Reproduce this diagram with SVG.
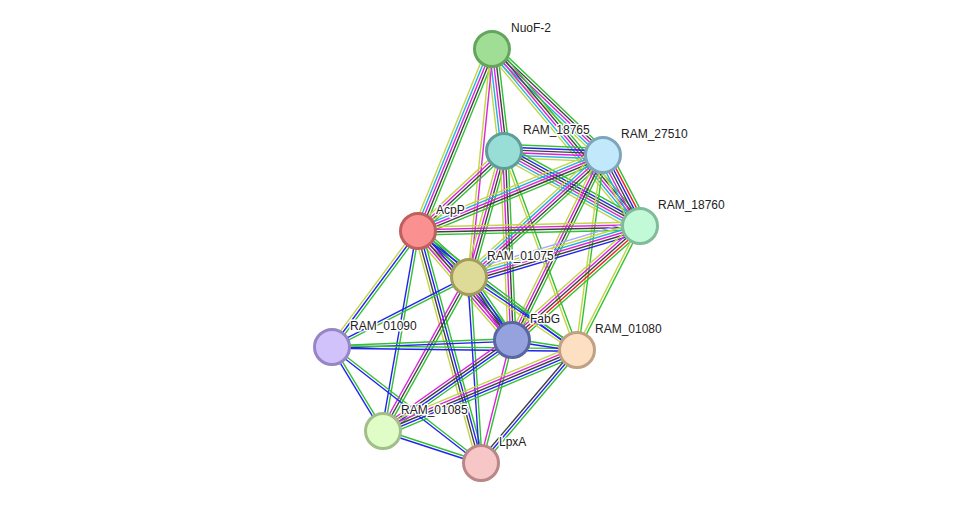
<svg xmlns="http://www.w3.org/2000/svg" width="976" height="509" viewBox="0 0 976 509">
<style>
.e path{fill:none;stroke-width:1.4;vector-effect:non-scaling-stroke}
.g{stroke:#33c033}.b{stroke:#2323f0}.k{stroke:#404040}.m{stroke:#dd22dd}.c{stroke:#22b0dd}.y{stroke:#c2d645}.r{stroke:#f02020}.h{stroke:#a8a8ff}
.n circle{stroke-width:3}
text{font-family:"Liberation Sans",Arial,sans-serif;font-size:12px;fill:#222;stroke:#fff;stroke-width:3;stroke-linejoin:round;paint-order:stroke}
</style>
<rect width="976" height="509" fill="#fff"/>
<g id="edges" class="e">
<g transform="translate(492 49) rotate(112.13) scale(1 1.2)"><path class="g" d="M0-4.4H196.5"/><path class="k" d="M0-2.2H196.5"/><path class="m" d="M0 0H196.5"/><path class="c" d="M0 2.2H196.5"/><path class="y" d="M0 4.4H196.5"/></g>
<g transform="translate(492 49) rotate(83.29) scale(1 1.2)"><path class="g" d="M0-4.4H102.7"/><path class="k" d="M0-2.2H102.7"/><path class="m" d="M0 0H102.7"/><path class="c" d="M0 2.2H102.7"/><path class="y" d="M0 4.4H102.7"/></g>
<g transform="translate(492 49) rotate(43.68) scale(1 1.2)"><path class="g" d="M0-4.4H153.5"/><path class="k" d="M0-2.2H153.5"/><path class="m" d="M0 0H153.5"/><path class="c" d="M0 2.2H153.5"/><path class="y" d="M0 4.4H153.5"/></g>
<g transform="translate(492 49) rotate(50.10) scale(1 1.2)"><path class="g" d="M0-4.4H230.7"/><path class="k" d="M0-2.2H230.7"/><path class="m" d="M0 0H230.7"/><path class="c" d="M0 2.2H230.7"/><path class="y" d="M0 4.4H230.7"/></g>
<g transform="translate(492 49) rotate(95.76) scale(1 1.2)"><path class="m" d="M0-1.1H229.2"/><path class="y" d="M0 1.1H229.2"/></g>
<g transform="translate(504 151) rotate(2.31) scale(1 1.2)"><path class="g" d="M0-5.5H99.1"/><path class="b" d="M0-3.3H99.1"/><path class="k" d="M0-1.1H99.1"/><path class="m" d="M0 1.1H99.1"/><path class="c" d="M0 3.3H99.1"/><path class="y" d="M0 5.5H99.1"/></g>
<g transform="translate(504 151) rotate(28.88) scale(1 1.2)"><path class="g" d="M0-5.5H155.3"/><path class="b" d="M0-3.3H155.3"/><path class="k" d="M0-1.1H155.3"/><path class="m" d="M0 1.1H155.3"/><path class="c" d="M0 3.3H155.3"/><path class="y" d="M0 5.5H155.3"/></g>
<g transform="translate(504 151) rotate(137.07) scale(1 1.2)"><path class="g" d="M0-3.3H117.5"/><path class="k" d="M0-1.1H117.5"/><path class="m" d="M0 1.1H117.5"/><path class="y" d="M0 3.3H117.5"/></g>
<g transform="translate(504 151) rotate(105.52) scale(1 1.2)"><path class="g" d="M0-3.3H130.8"/><path class="k" d="M0-1.1H130.8"/><path class="m" d="M0 1.1H130.8"/><path class="y" d="M0 3.3H130.8"/></g>
<g transform="translate(504 151) rotate(87.58) scale(1 1.2)"><path class="g" d="M0-3.3H189.2"/><path class="k" d="M0-1.1H189.2"/><path class="m" d="M0 1.1H189.2"/><path class="y" d="M0 3.3H189.2"/></g>
<g transform="translate(504 151) rotate(69.85) scale(1 1.2)"><path class="g" d="M0-1.1H212"/><path class="y" d="M0 1.1H212"/></g>
<g transform="translate(603 155) rotate(62.47) scale(1 1.2)"><path class="g" d="M0-6.6H80.1"/><path class="r" d="M0-4.4H80.1"/><path class="b" d="M0-2.2H80.1"/><path class="k" d="M0 0H80.1"/><path class="m" d="M0 2.2H80.1"/><path class="c" d="M0 4.4H80.1"/><path class="y" d="M0 6.6H80.1"/></g>
<g transform="translate(603 155) rotate(157.67) scale(1 1.2)"><path class="g" d="M0-4.4H200"/><path class="k" d="M0-2.2H200"/><path class="m" d="M0 0H200"/><path class="c" d="M0 2.2H200"/><path class="y" d="M0 4.4H200"/></g>
<g transform="translate(603 155) rotate(137.68) scale(1 1.2)"><path class="g" d="M0-4.4H181.2"/><path class="k" d="M0-2.2H181.2"/><path class="m" d="M0 0H181.2"/><path class="c" d="M0 2.2H181.2"/><path class="y" d="M0 4.4H181.2"/></g>
<g transform="translate(603 155) rotate(116.19) scale(1 1.2)"><path class="g" d="M0-3.3H206.2"/><path class="k" d="M0-1.1H206.2"/><path class="m" d="M0 1.1H206.2"/><path class="y" d="M0 3.3H206.2"/></g>
<g transform="translate(603 155) rotate(97.59) scale(1 1.2)"><path class="g" d="M0-1.1H196.7"/><path class="y" d="M0 1.1H196.7"/></g>
<g transform="translate(640 226) rotate(178.71) scale(1 1.2)"><path class="g" d="M0-3.3H222.1"/><path class="k" d="M0-1.1H222.1"/><path class="m" d="M0 1.1H222.1"/><path class="y" d="M0 3.3H222.1"/></g>
<g transform="translate(640 226) rotate(163.39) scale(1 1.2)"><path class="b" d="M0-5.5H178.4"/><path class="k" d="M0-3.3H178.4"/><path class="m" d="M0-1.1H178.4"/><path class="c" d="M0 1.1H178.4"/><path class="y" d="M0 3.3H178.4"/><path class="h" d="M0 5.5H178.4"/></g>
<g transform="translate(640 226) rotate(138.31) scale(1 1.2)"><path class="g" d="M0-4.4H171.4"/><path class="r" d="M0-2.2H171.4"/><path class="k" d="M0 0H171.4"/><path class="m" d="M0 2.2H171.4"/><path class="y" d="M0 4.4H171.4"/></g>
<g transform="translate(640 226) rotate(116.93) scale(1 1.2)"><path class="g" d="M0-1.1H139.1"/><path class="y" d="M0 1.1H139.1"/></g>
<g transform="translate(418 231) rotate(42.05) scale(1 1.2)"><path class="g" d="M0-4.4H68.7"/><path class="b" d="M0-2.2H68.7"/><path class="k" d="M0 0H68.7"/><path class="m" d="M0 2.2H68.7"/><path class="y" d="M0 4.4H68.7"/></g>
<g transform="translate(418 231) rotate(49.23) scale(1 1.2)"><path class="g" d="M0-4.4H143.9"/><path class="b" d="M0-2.2H143.9"/><path class="k" d="M0 0H143.9"/><path class="m" d="M0 2.2H143.9"/><path class="y" d="M0 4.4H143.9"/></g>
<g transform="translate(418 231) rotate(126.55) scale(1 1.2)"><path class="g" d="M0-2.2H144.4"/><path class="b" d="M0 0H144.4"/><path class="y" d="M0 2.2H144.4"/></g>
<g transform="translate(418 231) rotate(99.93) scale(1 1.2)"><path class="g" d="M0-1.1H203"/><path class="b" d="M0 1.1H203"/></g>
<g transform="translate(418 231) rotate(74.81) scale(1 1.2)"><path class="g" d="M0-3.3H240.4"/><path class="b" d="M0-1.1H240.4"/><path class="k" d="M0 1.1H240.4"/><path class="y" d="M0 3.3H240.4"/></g>
<g transform="translate(418 231) rotate(36.82) scale(1 1.2)"><path class="g" d="M0-1.1H198.6"/><path class="b" d="M0 1.1H198.6"/></g>
<g transform="translate(469 277) rotate(55.69) scale(1 1.2)"><path class="g" d="M0-3.3H76.3"/><path class="b" d="M0-1.1H76.3"/><path class="k" d="M0 1.1H76.3"/><path class="m" d="M0 3.3H76.3"/></g>
<g transform="translate(469 277) rotate(34.06) scale(1 1.2)"><path class="g" d="M0-2.2H130.4"/><path class="b" d="M0 0H130.4"/><path class="y" d="M0 2.2H130.4"/></g>
<g transform="translate(469 277) rotate(152.94) scale(1 1.2)"><path class="g" d="M0-1.1H153.8"/><path class="b" d="M0 1.1H153.8"/></g>
<g transform="translate(469 277) rotate(119.18) scale(1 1.2)"><path class="g" d="M0-2.2H176.4"/><path class="k" d="M0 0H176.4"/><path class="m" d="M0 2.2H176.4"/></g>
<g transform="translate(469 277) rotate(86.31) scale(1 1.2)"><path class="g" d="M0-1.1H186.4"/><path class="b" d="M0 1.1H186.4"/></g>
<g transform="translate(332 347) rotate(-2.23) scale(1 1.2)"><path class="g" d="M0-1.1H180.1"/><path class="b" d="M0 1.1H180.1"/></g>
<g transform="translate(332 347) rotate(0.70) scale(1 1.2)"><path class="g" d="M0-1.1H245"/><path class="b" d="M0 1.1H245"/></g>
<g transform="translate(332 347) rotate(58.73) scale(1 1.2)"><path class="g" d="M0-1.1H98.3"/><path class="b" d="M0 1.1H98.3"/></g>
<g transform="translate(332 347) rotate(37.90) scale(1 1.2)"><path class="g" d="M0-1.1H188.8"/><path class="b" d="M0 1.1H188.8"/></g>
<g transform="translate(512 340) rotate(8.75) scale(1 1.2)"><path class="g" d="M0-1.1H65.8"/><path class="b" d="M0 1.1H65.8"/></g>
<g transform="translate(512 340) rotate(144.80) scale(1 1.2)"><path class="g" d="M0-3.3H157.9"/><path class="b" d="M0-1.1H157.9"/><path class="k" d="M0 1.1H157.9"/><path class="m" d="M0 3.3H157.9"/></g>
<g transform="translate(512 340) rotate(104.15) scale(1 1.2)"><path class="g" d="M0-1.1H126.8"/><path class="m" d="M0 1.1H126.8"/></g>
<g transform="translate(577 350) rotate(157.34) scale(1 1.2)"><path class="g" d="M0-4.4H210.2"/><path class="b" d="M0-2.2H210.2"/><path class="k" d="M0 0H210.2"/><path class="m" d="M0 2.2H210.2"/><path class="y" d="M0 4.4H210.2"/></g>
<g transform="translate(577 350) rotate(130.35) scale(1 1.2)"><path class="g" d="M0-2.2H148.3"/><path class="b" d="M0 0H148.3"/><path class="k" d="M0 2.2H148.3"/></g>
<g transform="translate(383 431) rotate(18.08) scale(1 1.2)"><path class="g" d="M0-1.1H103.1"/><path class="b" d="M0 1.1H103.1"/></g>
</g>
<g id="NuoF-2" class="n"><circle cx="492" cy="49" r="17.5" fill="#a1de95" stroke="#64a45c"/><text x="511" y="32">NuoF-2</text></g>
<g id="RAM_18765" class="n"><circle cx="504" cy="151" r="17.5" fill="#98ddd6" stroke="#5e9e98"/><text x="523" y="134">RAM_18765</text></g>
<g id="RAM_27510" class="n"><circle cx="603" cy="155" r="17.5" fill="#c2e8fb" stroke="#7ea6bb"/><text x="621" y="138">RAM_27510</text></g>
<g id="RAM_18760" class="n"><circle cx="640" cy="226" r="17.5" fill="#c2fad8" stroke="#80bb9a"/><text x="658" y="209">RAM_18760</text></g>
<g id="AcpP" class="n"><circle cx="418" cy="231" r="17.5" fill="#fb9090" stroke="#bf5f5f"/><text x="436" y="214">AcpP</text></g>
<g id="RAM_01075" class="n"><circle cx="469" cy="277" r="17.5" fill="#dedb98" stroke="#a29c5e"/><text x="487" y="260">RAM_01075</text></g>
<g id="RAM_01090" class="n"><circle cx="332" cy="347" r="17.5" fill="#d1c2fc" stroke="#9786c6"/><text x="350" y="330">RAM_01090</text></g>
<g id="FabG" class="n"><circle cx="512" cy="340" r="17.5" fill="#95a2dd" stroke="#5a66a2"/><text x="530" y="323">FabG</text></g>
<g id="RAM_01080" class="n"><circle cx="577" cy="350" r="17.5" fill="#fddfc1" stroke="#c1a183"/><text x="595" y="333">RAM_01080</text></g>
<g id="RAM_01085" class="n"><circle cx="383" cy="431" r="17.5" fill="#e0fcc7" stroke="#a3bf89"/><text x="401" y="414">RAM_01085</text></g>
<g id="LpxA" class="n"><circle cx="481" cy="463" r="17.5" fill="#f7c6c6" stroke="#b98787"/><text x="499" y="446">LpxA</text></g>
</svg>
